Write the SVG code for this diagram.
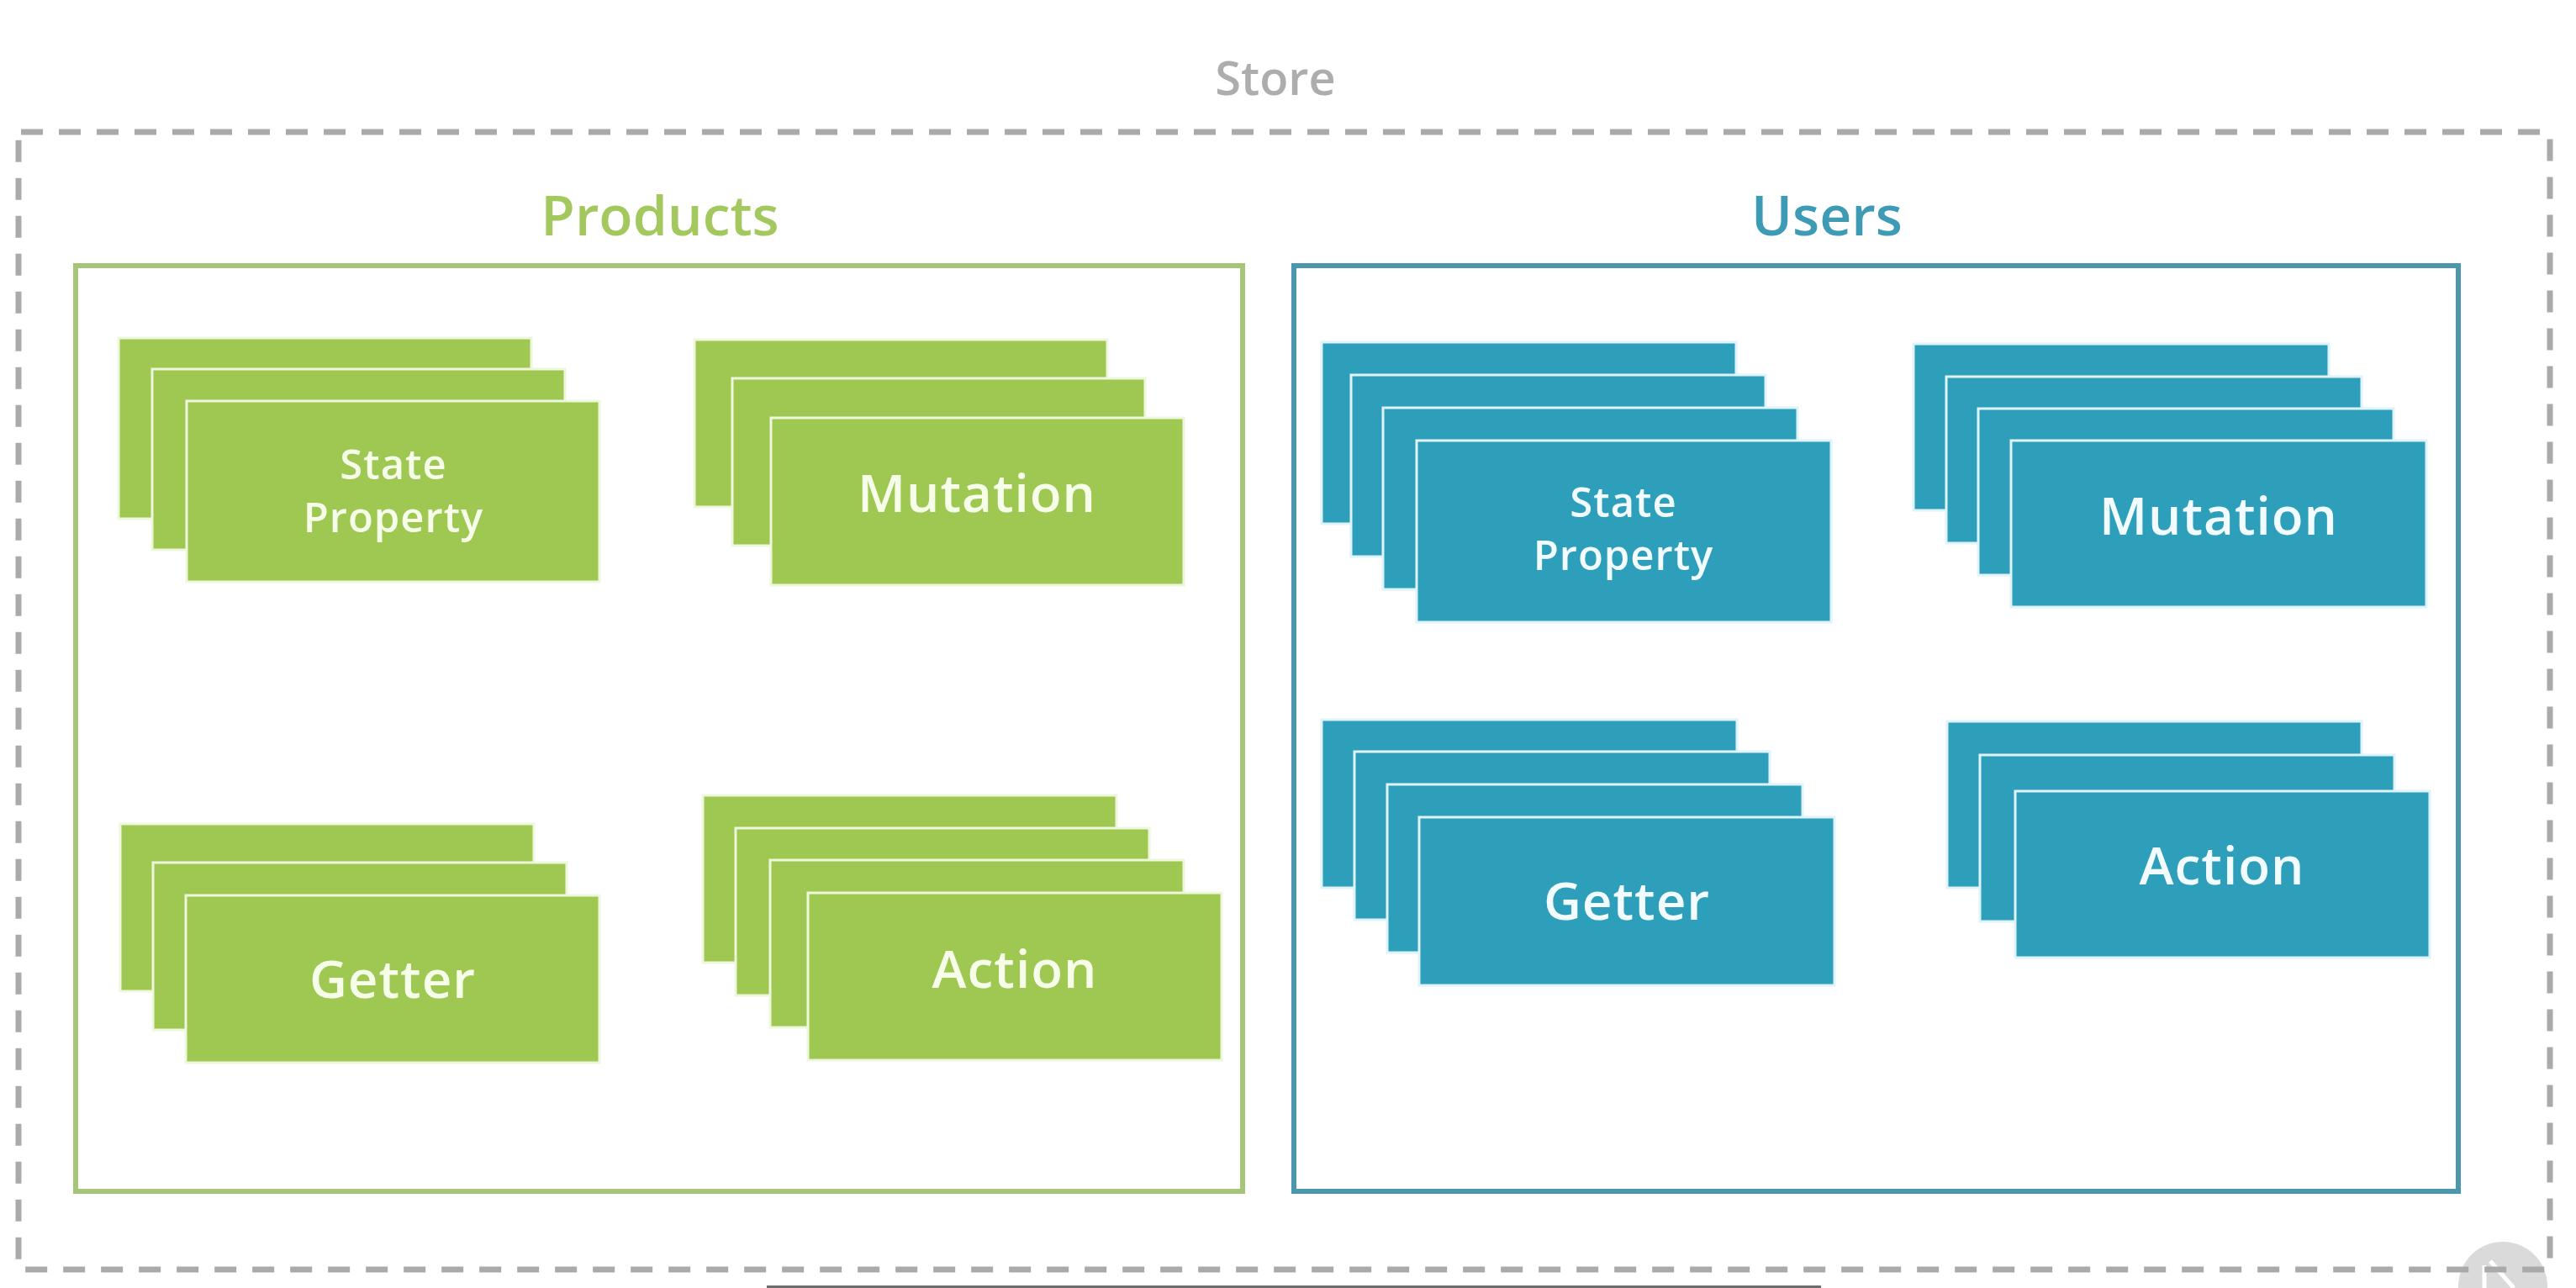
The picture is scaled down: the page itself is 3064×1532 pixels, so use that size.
<svg xmlns="http://www.w3.org/2000/svg" width="3064" height="1532" viewBox="0 0 3064 1532">
<style>
.store{fill:none;stroke:#aaaaaa;stroke-width:7;stroke-dasharray:26 19}
.pbox{fill:none;stroke:#a6c57a;stroke-width:6}
.ubox{fill:none;stroke:#4a97ae;stroke-width:6}
.g{fill:#9ec852;stroke:#eef7dc;stroke-width:3}
.b{fill:#2d9fbb;stroke:#dff4fa;stroke-width:3}
.title{font-family:"Open Sans","Liberation Sans",sans-serif;font-weight:600;text-anchor:middle}
.lbl{font-family:"Open Sans","Liberation Sans",sans-serif;font-weight:600;text-anchor:middle;font-size:62px;letter-spacing:1px}
.gl{fill:#f6fde9}
.bl{fill:#f2fbfe}
.sm{font-size:49px;letter-spacing:1px}
</style>
<rect width="3064" height="1532" fill="#ffffff"/>
<g id="watermark">
<circle cx="2977" cy="1530" r="53" fill="#dadada"/>
<path d="M2955 1505 L2955 1532 M2962 1500 L2990 1532" stroke="#ffffff" stroke-width="5" fill="none"/>
</g>
<g id="store">
<rect class="store" x="22" y="157" width="3011" height="1353" rx="3"/>
<text class="title" x="1517" y="113" font-size="56" fill="#adadad">Store</text>
</g>
<g id="products">
<rect class="pbox" x="90" y="316" width="1388" height="1101"/>
<text class="title" x="785" y="280" font-size="66" fill="#a2c85e">Products</text>
</g>
<g id="users">
<rect class="ubox" x="1539" y="316" width="1385" height="1101"/>
<text class="title" x="2173" y="280" font-size="66" fill="#3e9bb6">Users</text>
</g>
<g id="products-state">
<rect class="g" x="141" y="402" width="491" height="215"/>
<rect class="g" x="181" y="439" width="491" height="215"/>
<rect class="g" x="222" y="477" width="491" height="215"/>
<text class="lbl sm gl" x="468" y="570">State</text>
<text class="lbl sm gl" x="468" y="633">Property</text>
</g>
<g id="products-mutation">
<rect class="g" x="826" y="404" width="491" height="199"/>
<rect class="g" x="871" y="450" width="491" height="199"/>
<rect class="g" x="917" y="497" width="491" height="199"/>
<text class="lbl gl" x="1162" y="609">Mutation</text>
</g>
<g id="products-getter">
<rect class="g" x="143" y="980" width="492" height="199"/>
<rect class="g" x="182" y="1026" width="492" height="199"/>
<rect class="g" x="221" y="1065" width="492" height="199"/>
<text class="lbl gl" x="467" y="1187">Getter</text>
</g>
<g id="products-action">
<rect class="g" x="836" y="946" width="492" height="199"/>
<rect class="g" x="875" y="985" width="492" height="199"/>
<rect class="g" x="916" y="1023" width="492" height="199"/>
<rect class="g" x="961" y="1062" width="492" height="199"/>
<text class="lbl gl" x="1207" y="1175">Action</text>
</g>
<g id="users-state">
<rect class="b" x="1572" y="407" width="493" height="216"/>
<rect class="b" x="1607" y="446" width="493" height="216"/>
<rect class="b" x="1645" y="485" width="493" height="216"/>
<rect class="b" x="1685" y="524" width="493" height="216"/>
<text class="lbl sm bl" x="1931" y="615">State</text>
<text class="lbl sm bl" x="1931" y="678">Property</text>
</g>
<g id="users-mutation">
<rect class="b" x="2276" y="409" width="494" height="198"/>
<rect class="b" x="2315" y="448" width="494" height="198"/>
<rect class="b" x="2353" y="486" width="494" height="198"/>
<rect class="b" x="2392" y="524" width="494" height="198"/>
<text class="lbl bl" x="2639" y="636">Mutation</text>
</g>
<g id="users-getter">
<rect class="b" x="1572" y="856" width="494" height="200"/>
<rect class="b" x="1611" y="894" width="494" height="200"/>
<rect class="b" x="1650" y="933" width="494" height="200"/>
<rect class="b" x="1688" y="972" width="494" height="200"/>
<text class="lbl bl" x="1935" y="1094">Getter</text>
</g>
<g id="users-action">
<rect class="b" x="2316" y="858" width="493" height="198"/>
<rect class="b" x="2355" y="898" width="493" height="198"/>
<rect class="b" x="2397" y="941" width="493" height="198"/>
<text class="lbl bl" x="2643" y="1052">Action</text>
</g>
<g id="connectors"></g>
<rect x="912" y="1529" width="1254" height="3" fill="#6d6d6d"/>
</svg>
